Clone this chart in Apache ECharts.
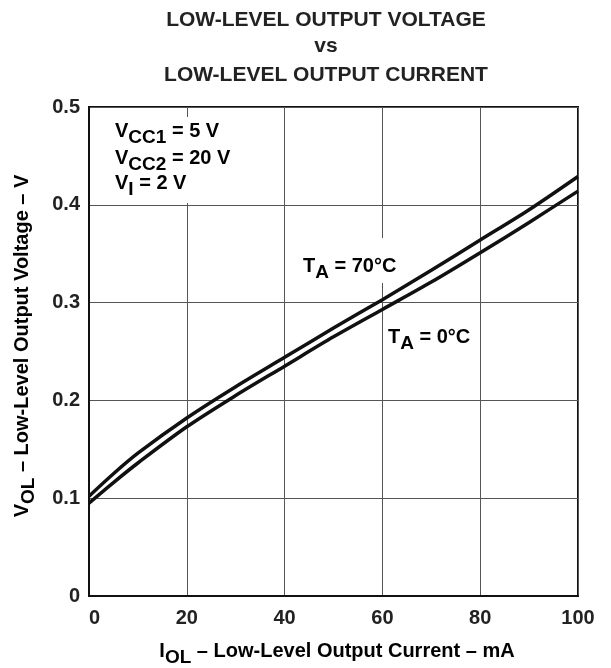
<!DOCTYPE html>
<html>
<head>
<meta charset="utf-8">
<script src="https://cdn.jsdelivr.net/npm/echarts@6/dist/echarts.min.js"></script>
<style>html,body{margin:0;padding:0;background:#fff;}#c{width:611px;height:668px;}</style>
</head>
<body>
<div id="c"></div>
<script>
// Data
const currents = [0, 5, 10, 20, 30, 40, 50, 60, 70, 80, 90, 100];           // I_OL (mA)
const vol70 = [0.102, 0.125, 0.146, 0.182, 0.214, 0.244, 0.274, 0.303, 0.333, 0.364, 0.395, 0.429]; // T_A = 70°C
const vol0  = [0.095, 0.116, 0.136, 0.173, 0.205, 0.235, 0.265, 0.293, 0.321, 0.351, 0.382, 0.414]; // T_A = 0°C
const xTicks = [0, 20, 40, 60, 80, 100];
const yTicks = [0, 0.1, 0.2, 0.3, 0.4, 0.5];

const FONT = 'Liberation Sans, Arial, Helvetica, sans-serif';
const chart = echarts.init(document.getElementById('c'));

const pair = arr => currents.map((x, i) => [x, arr[i]]);
const rich = {
  n: { fontSize: 20, fontWeight: 'bold', fontFamily: FONT, color: '#222', lineHeight: 24 },
  s: { fontSize: 19, fontWeight: 'bold', fontFamily: FONT, color: '#222', lineHeight: 24, padding: [13, 0, 0, 0] }
};

chart.setOption({
  animation: false,
  backgroundColor: '#fff',
  grid: { left: 89, right: 33, top: 107, bottom: 72, show: true, borderColor: '#111', borderWidth: 2, containLabel: false },
  xAxis: {
    type: 'value', min: 0, max: 100, interval: 20,
    axisLine: { show: true, lineStyle: { color: '#111', width: 2 } },
    axisTick: { show: false },
    splitLine: { show: true, lineStyle: { color: '#555', width: 1 } },
    axisLabel: { margin: 12, fontSize: 20, fontWeight: 'bold', fontFamily: FONT, color: '#222',
      alignMinLabel: 'left',
      formatter: v => xTicks.includes(v) ? String(v) : '' }
  },
  yAxis: {
    type: 'value', min: 0, max: 0.5, interval: 0.1,
    axisLine: { show: true, lineStyle: { color: '#111', width: 2 } },
    axisTick: { show: false },
    splitLine: { show: true, lineStyle: { color: '#555', width: 1 } },
    axisLabel: { margin: 9, fontSize: 20, fontWeight: 'bold', fontFamily: FONT, color: '#222',
      formatter: v => { const t = yTicks.find(k => Math.abs(k - v) < 1e-9); return t === undefined ? '' : (t === 0 ? '0' : t.toFixed(1)); } }
  },
  series: [
    { name: 'TA = 70°C', type: 'line', data: pair(vol70), smooth: 0.3, symbol: 'none',
      lineStyle: { color: '#111', width: 3.5 }, z: 5 },
    { name: 'TA = 0°C', type: 'line', data: pair(vol0), smooth: 0.3, symbol: 'none',
      lineStyle: { color: '#111', width: 3.5 }, z: 5 }
  ],
  graphic: [
    { type: 'text', x: 326, y: 20, style: { text: 'LOW-LEVEL OUTPUT VOLTAGE', font: 'bold 21px ' + FONT, fill: '#222', align: 'center', verticalAlign: 'middle' } },
    { type: 'text', x: 326, y: 46, style: { text: 'vs', font: 'bold 21px ' + FONT, fill: '#222', align: 'center', verticalAlign: 'middle' } },
    { type: 'text', x: 326, y: 75, style: { text: 'LOW-LEVEL OUTPUT CURRENT', font: 'bold 21px ' + FONT, fill: '#222', align: 'center', verticalAlign: 'middle' } },
    // y axis name
    { type: 'text', x: 22, y: 346, rotation: Math.PI / 2,
      style: { text: '{n|V}{s|OL}{n| – Low-Level Output Voltage – V}', rich: rich, align: 'center', verticalAlign: 'middle' } },
    // x axis name
    { type: 'text', x: 337, y: 651,
      style: { text: '{n|I}{s|OL}{n| – Low-Level Output Current – mA}', rich: rich, align: 'center', verticalAlign: 'middle' } },
    // conditions block (white background interrupts grid)
    { type: 'rect', shape: { x: 110, y: 117, width: 128, height: 86 }, style: { fill: '#fff' }, z: 10 },
    { type: 'text', x: 115, y: 131, z: 11, style: { text: '{n|V}{s|CC1}{n| = 5 V}', rich: rich, align: 'left', verticalAlign: 'middle' } },
    { type: 'text', x: 115, y: 158, z: 11, style: { text: '{n|V}{s|CC2}{n| = 20 V}', rich: rich, align: 'left', verticalAlign: 'middle' } },
    { type: 'text', x: 115, y: 183, z: 11, style: { text: '{n|V}{s|I}{n| = 2 V}', rich: rich, align: 'left', verticalAlign: 'middle' } },
    // temperature labels
    { type: 'rect', shape: { x: 298, y: 238, width: 108, height: 45 }, style: { fill: '#fff' }, z: 10 },
    { type: 'text', x: 303, y: 266, z: 11, style: { text: '{n|T}{s|A}{n| = 70°C}', rich: rich, align: 'left', verticalAlign: 'middle' } },
    { type: 'text', x: 388, y: 337, z: 11, style: { text: '{n|T}{s|A}{n| = 0°C}', rich: rich, align: 'left', verticalAlign: 'middle' } }
  ]
});
</script>
</body>
</html>
